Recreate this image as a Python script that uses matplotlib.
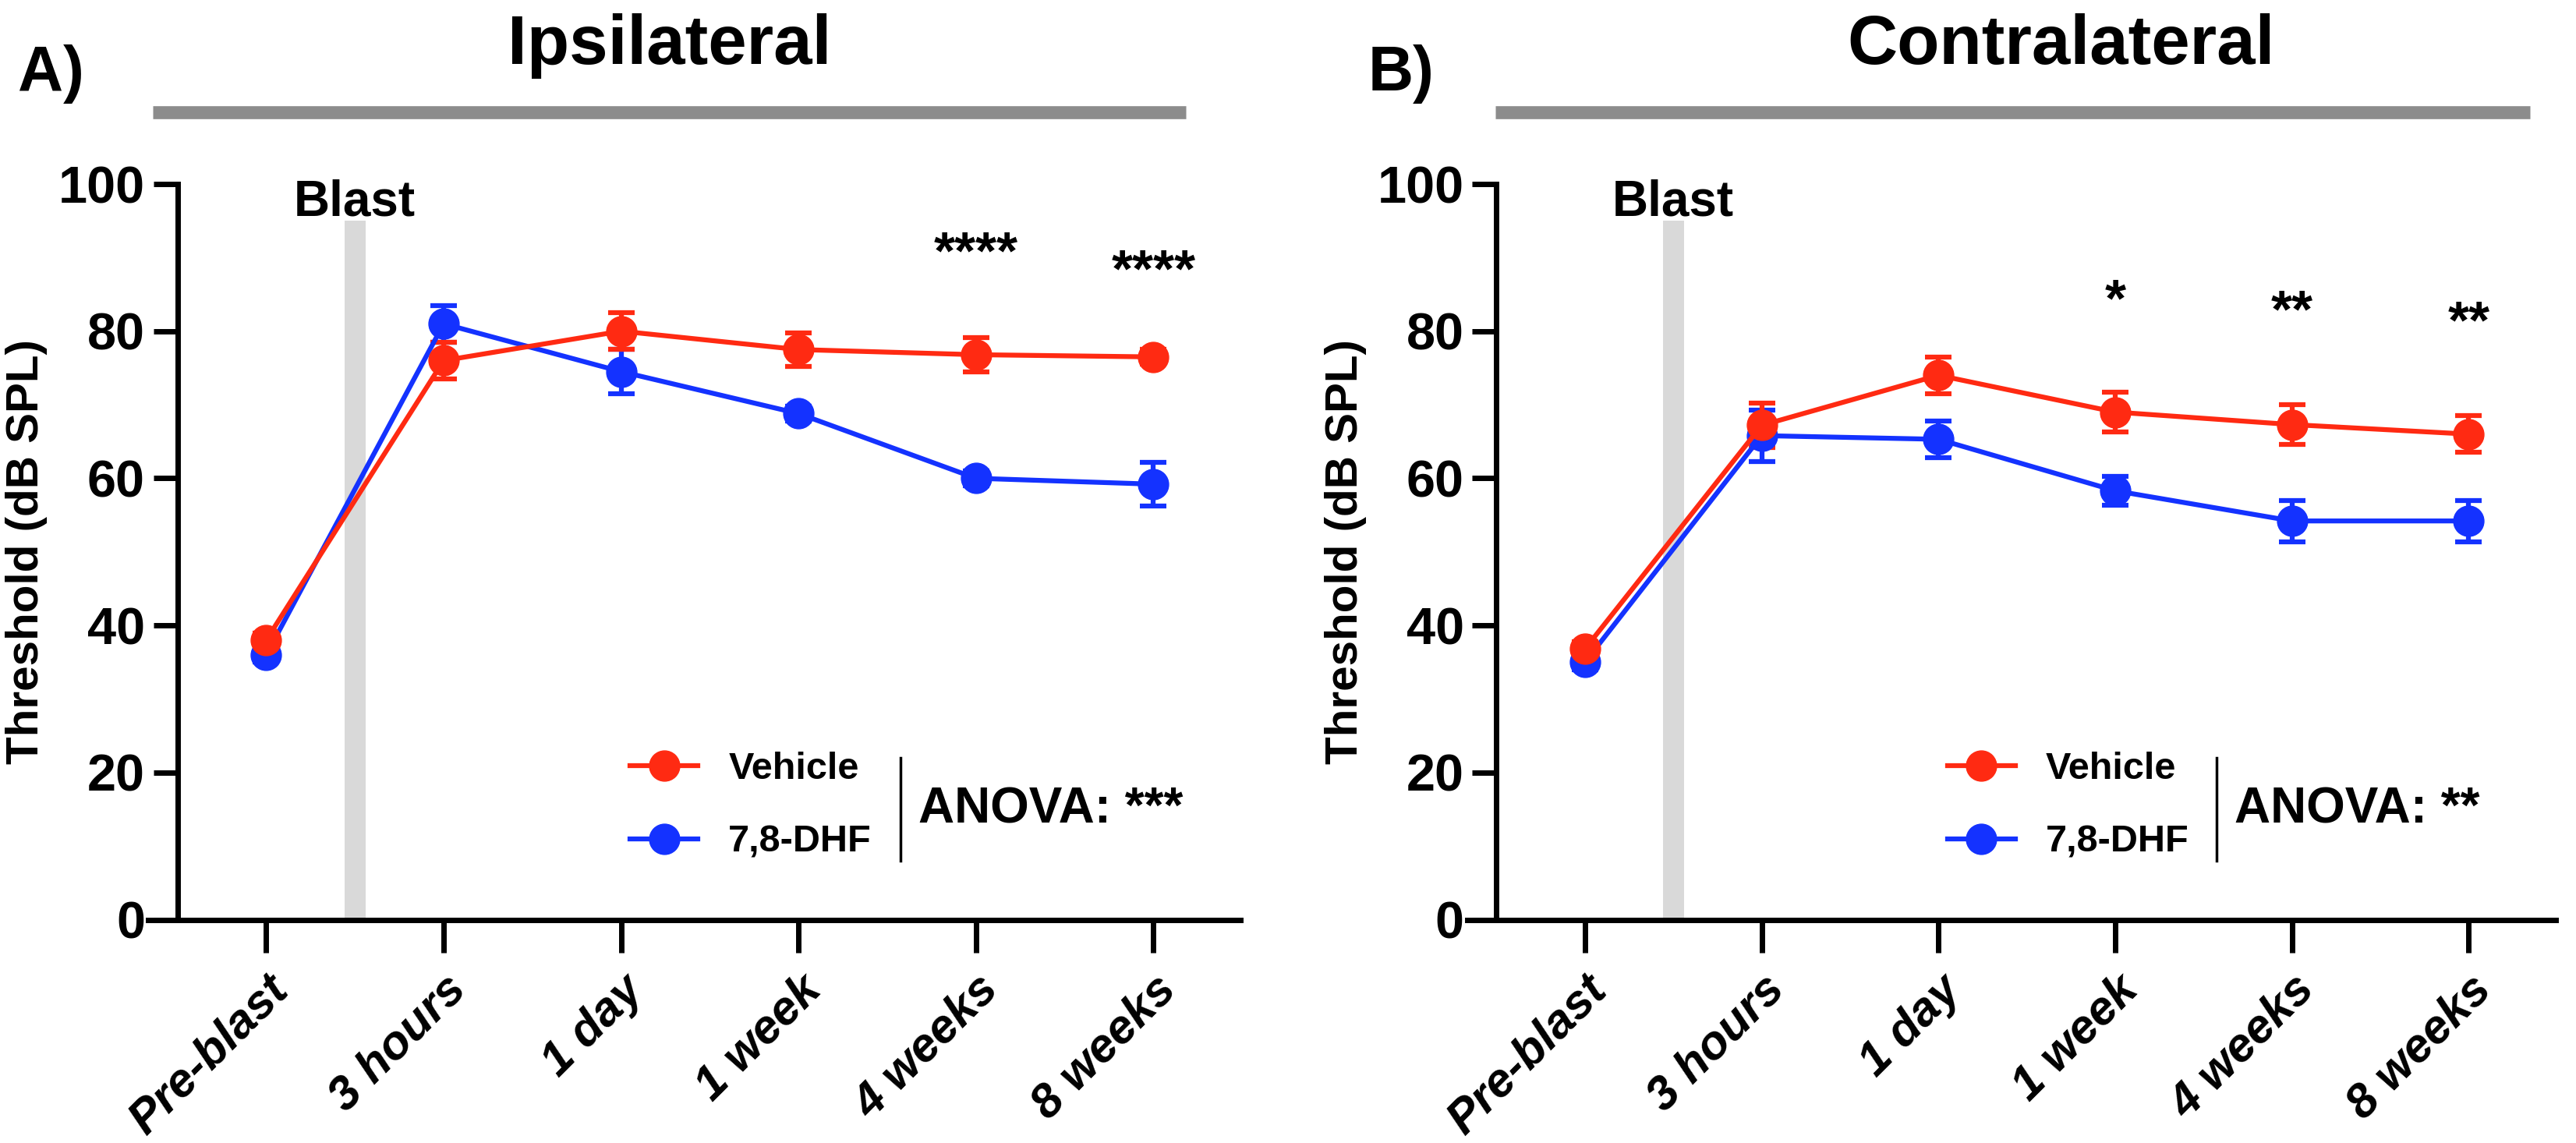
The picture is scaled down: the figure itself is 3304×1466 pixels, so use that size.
import matplotlib
matplotlib.use("Agg")
import matplotlib.pyplot as plt
from matplotlib.lines import Line2D

plt.rcParams['font.family'] = ['Liberation Sans', 'DejaVu Sans']
plt.rcParams['font.weight'] = 'bold'

categories = ["Pre-blast", "3 hours", "1 day", "1 week", "4 weeks", "8 weeks"]
ipsi_vehicle = [38, 76, 80, 77.5, 76.8, 76.5]
ipsi_vehicle_err = [1, 2.5, 2.5, 2.3, 2.3, 1]
ipsi_dhf = [36, 81, 74.5, 68.8, 60, 59.2]
ipsi_dhf_err = [1, 2.5, 3, 1, 1, 3]
contra_vehicle = [36.8, 67.2, 74, 69, 67.3, 66]
contra_vehicle_err = [1, 3, 2.5, 2.7, 2.7, 2.5]
contra_dhf = [35, 65.8, 65.3, 58.3, 54.2, 54.2]
contra_dhf_err = [1, 3.5, 2.5, 2, 2.8, 2.8]
ipsi_stars = {4: ("****", 90.4), 5: ("****", 88)}
contra_stars = {3: ("*", 84), 4: ("**", 82.5), 5: ("**", 81)}

RED = "#ff2a12"
BLUE = "#1432ff"

fig = plt.figure(figsize=(33.04, 14.66), dpi=100)

def panel(left, right, bar, title_x, title, letter_x, letter, veh, veh_e, dhf, dhf_e, stars, anova):
    ax = fig.add_axes([left, 0.1954, right - left, 0.839 - 0.1954])
    x = list(range(len(categories)))
    ax.axvspan(0.44, 0.56, ymin=0, ymax=0.95, color="#d9d9d9", lw=0, zorder=0)
    for y, e, c in ((dhf, dhf_e, BLUE), (veh, veh_e, RED)):
        ax.errorbar(x, y, yerr=e, color=c, lw=4.5, marker='o', ms=28,
                    capsize=12, capthick=4.5, elinewidth=4.5, zorder=3)
    for i, (s, v) in stars.items():
        ax.text(i, v, s, ha='center', va='center', fontsize=50, fontweight='bold')
    ax.text(0.5, 97.5, "Blast", ha='center', va='center', fontsize=46, fontweight='bold')
    ax.set_xlim(-0.667, 5.49)
    ax.set_ylim(0, 100)
    ax.spines['left'].set_position(('data', -0.5))
    ax.spines['right'].set_visible(False)
    ax.spines['top'].set_visible(False)
    ax.spines['left'].set_linewidth(5)
    ax.spines['bottom'].set_linewidth(5)
    ax.set_xticks(x)
    ax.set_xticklabels(categories, rotation=45, ha='right', rotation_mode='anchor',
                       fontsize=44, fontstyle='italic', fontweight='bold')
    ax.set_yticks([0, 20, 40, 60, 80, 100])
    ax.tick_params(axis='x', length=30, width=5, pad=14)
    ax.tick_params(axis='y', length=22, width=5, labelsize=48, pad=8)
    for t in ax.get_yticklabels():
        t.set_fontweight('bold')
    ax.set_ylabel("Threshold (dB SPL)", fontsize=42, fontweight='bold', labelpad=10)
    handles = [Line2D([], [], color=RED, lw=4.5, marker='o', ms=28),
               Line2D([], [], color=BLUE, lw=4.5, marker='o', ms=28)]
    ax.legend(handles, ["Vehicle", "7,8-DHF"], loc='center left',
              bbox_to_anchor=(0.41, 0.155), frameon=False,
              handlelength=1.8, labelspacing=1.0, prop={'weight': 'bold', 'size': 35})
    ax.plot([0.689, 0.689], [0.08, 0.22], transform=ax.transAxes, color='black', lw=2.5, clip_on=False)
    ax.text(0.705, 0.15, "ANOVA: " + anova, transform=ax.transAxes, ha='left', va='center',
            fontsize=46, fontweight='bold')
    fig.add_artist(Line2D(bar, [0.902, 0.902], color='#8c8c8c', lw=12, solid_capstyle='butt'))
    fig.text(title_x, 0.96, title, ha='center', va='center', fontsize=64, fontweight='bold')
    fig.text(letter_x, 0.935, letter, ha='left', va='center', fontsize=58, fontweight='bold')
    return ax

panel(0.0574, 0.4815, [0.0593, 0.4605], 0.26, "Ipsilateral", 0.007, "A)",
      ipsi_vehicle, ipsi_vehicle_err, ipsi_dhf, ipsi_dhf_err, ipsi_stars, "***")
panel(0.5695, 0.992, [0.5804, 0.9821], 0.80, "Contralateral", 0.531, "B)",
      contra_vehicle, contra_vehicle_err, contra_dhf, contra_dhf_err, contra_stars, "**")

fig.savefig("out.png", dpi=100)
